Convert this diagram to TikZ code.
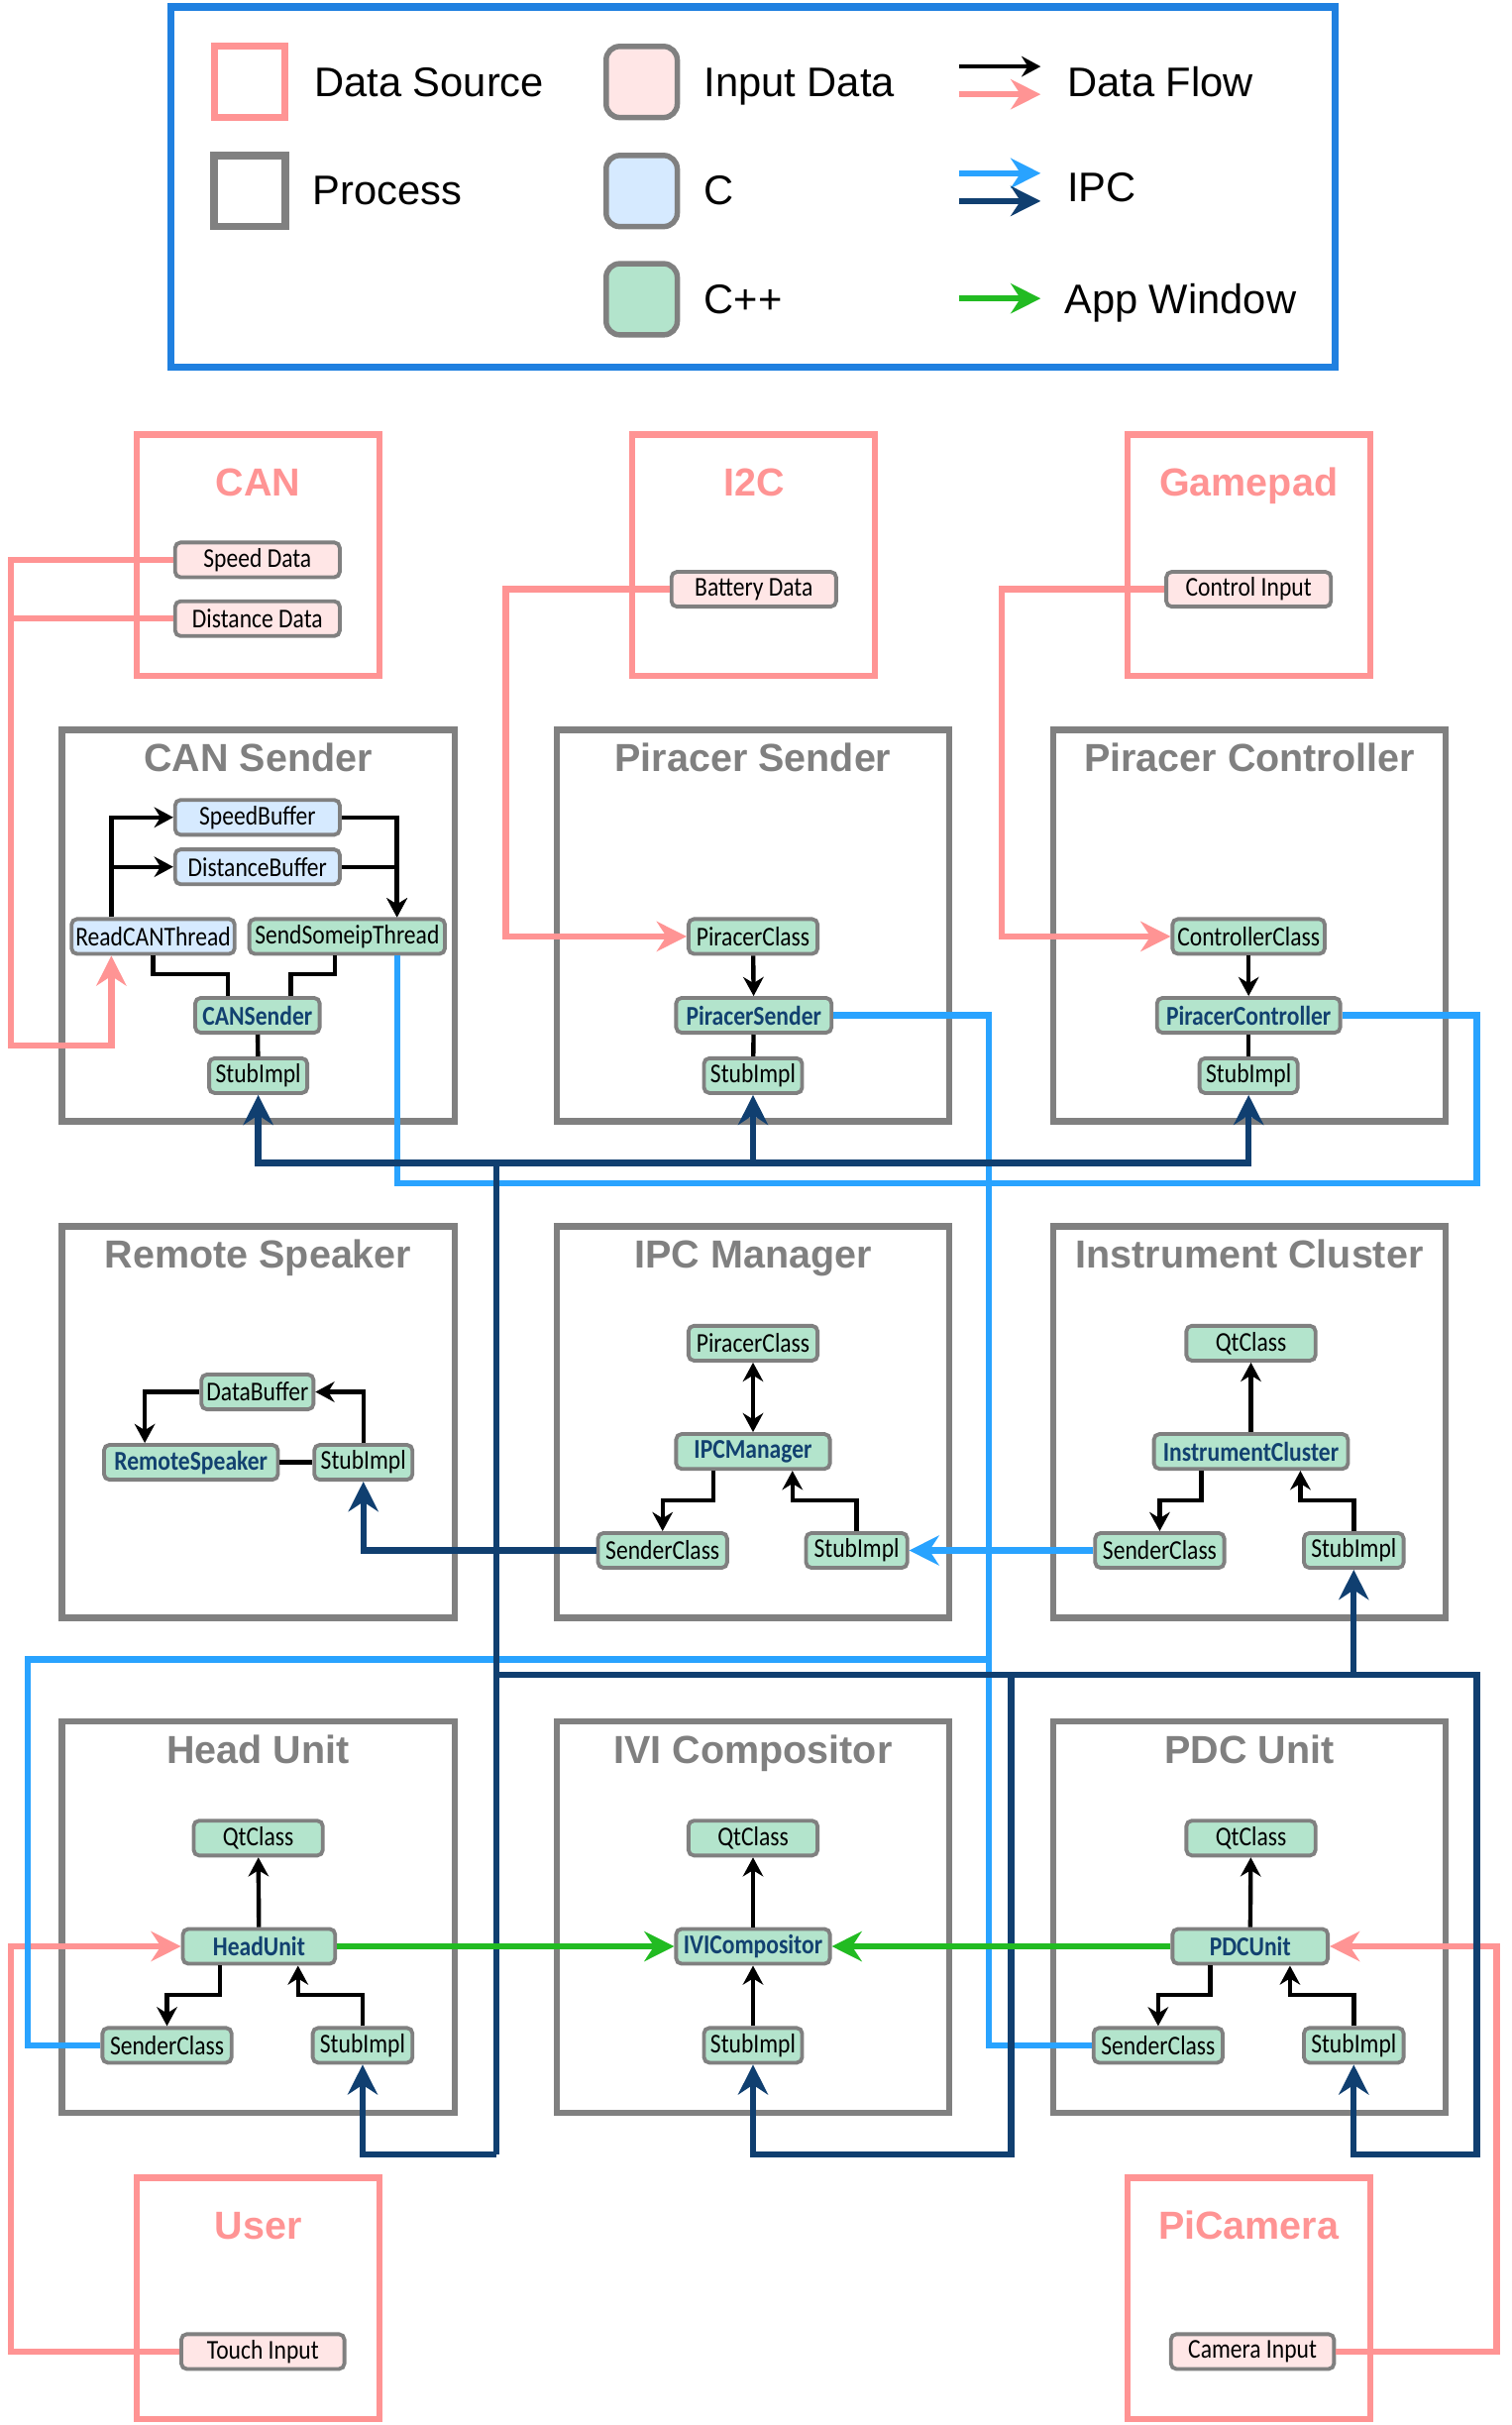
\documentclass[tikz,border=0pt]{standalone}
\usepackage{fontspec}
\setmainfont{Liberation Sans}
\newfontfamily\nodefont[FakeStretch=0.86]{Carlito}
\usetikzlibrary{positioning,calc,arrows.meta}
\definecolor{srcpink}{RGB}{255,148,148}
\definecolor{procgray}{RGB}{128,128,128}
\definecolor{inpfill}{RGB}{255,230,230}
\definecolor{cfill}{RGB}{214,234,255}
\definecolor{cppfill}{RGB}{179,228,204}
\definecolor{coreblue}{RGB}{18,65,112}
\definecolor{ipclight}{RGB}{41,163,255}
\definecolor{ipcdark}{RGB}{16,63,112}
\definecolor{appgreen}{RGB}{34,187,34}
\definecolor{legblue}{RGB}{31,128,224}
\begin{document}
\begin{tikzpicture}[x=0.02cm,y=-0.02cm,
proc/.style={
  draw=procgray,
  line width=2.3pt,
  minimum width=5.08cm,
  minimum height=5.06cm
  },
src/.style={
  draw=srcpink,
  line width=2.3pt,
  minimum width=3.14cm,
  minimum height=3.12cm
  },
ptitle/.style={anchor=base,text=procgray,font=\bfseries\fontsize{14.4}{17}\selectfont},
stitle/.style={ptitle,text=srcpink},
cls/.style={
  draw=procgray,
  line width=1.4pt,
  rounded corners=2pt,
  minimum height=0.45cm,
  inner sep=0pt,
  font=\nodefont\fontsize{10}{12}\selectfont
  },
wd/.style={minimum width=#1cm},
inp/.style={cls,fill=inpfill},
cc/.style={cls,fill=cfill},
cpp/.style={cls,fill=cppfill},
core/.style={cpp,text=coreblue,font=\nodefont\bfseries\fontsize{10}{12}\selectfont},
wire/.style={line width=1.6pt},
flow/.style={wire,-{Stealth[length=7pt,width=7.5pt]}},
dfl/.style={draw=srcpink,line width=2.3pt},
df/.style={dfl,-{Stealth[length=11pt,width=11pt]}},
lipcl/.style={draw=ipclight,line width=2.3pt},
lipc/.style={lipcl,-{Stealth[length=11pt,width=11pt]}},
dipcl/.style={draw=ipcdark,line width=2.3pt},
dipc/.style={dipcl,-{Stealth[length=11pt,width=11pt]}},
app/.style={draw=appgreen,line width=2.3pt,-{Stealth[length=11pt,width=11pt]}},
legtxt/.style={anchor=base west,inner sep=0pt,font=\fontsize{15.2}{18}\selectfont}
]
\useasboundingbox (0,0) rectangle (977.8,1568);

\node[draw=legblue,line width=2.7pt,minimum width=15.06cm,minimum height=4.66cm] (legend) at (487,121) {};
\node[draw=srcpink,line width=2.6pt,minimum size=0.92cm] (lgsrc) at (161.5,53) {};
\node[draw=procgray,line width=2.8pt,minimum size=0.92cm] (lgproc) at (161.5,123.5) {};
\node[inp,minimum size=0.92cm,rounded corners=5pt,line width=2pt] (lginp) at (415,53) {};
\node[cc,minimum size=0.92cm,rounded corners=5pt,line width=2pt] (lgc) at (415,123.5) {};
\node[cpp,minimum size=0.92cm,rounded corners=5pt,line width=2pt] (lgcpp) at (415,193.5) {};
\node[legtxt] (lgsrctxt) at (203,62.6) {Data Source};
\node[legtxt] (lgproctxt) at (202,132.6) {Process};
\node[legtxt] (lginptxt) at (455,62.6) {Input Data};
\node[legtxt] (lgctxt) at (455,132.6) {C};
\node[legtxt] (lgcpptxt) at (455,202.6) {C++};
\node[legtxt] (lgflowtxt) at (690,62.6) {Data Flow};
\node[legtxt] (lgipctxt) at (690,130.6) {IPC};
\node[legtxt] (lgapptxt) at (688,202.6) {App Window};
\draw[flow] (620,43) -- (673,43);
\draw[df] (620,61) -- (673,61);
\draw[lipc] (620,112) -- (673,112);
\draw[dipc] (620,130) -- (673,130);
\draw[app] (620,193) -- (673,193);

\foreach \bx/\by/\bn/\bt in {167/359/canbox/CAN,487.5/359/i2cbox/I2C,807.5/359/padbox/Gamepad,167/1486/userbox/User,807.5/1486/cambox/PiCamera}
{
  \node[src] (\bn) at (\bx,\by) {};
  \node[stitle] (\bn-title) at (\bx,\by-38) {\bt};
}
\foreach \bx/\by/\bn/\bt in {167/598.5/cansend/CAN Sender,487/598.5/pisend/Piracer Sender,808/598.5/picont/Piracer Controller,167/919.5/remote/Remote Speaker,487/919.5/ipc/IPC Manager,808/919.5/cluster/Instrument Cluster,167/1239.5/head/Head Unit,487/1239.5/ivicomp/IVI Compositor,808/1239.5/pdcunit/PDC Unit}
{
  \node[proc] (\bn) at (\bx,\by) {};
  \node[ptitle] (\bn-title) at (\bx,\by-99.5) {\bt};
}

\node[inp,wd=2.13] (speed) at (166.5,362) {Speed Data};
\node[inp,wd=2.13] (dist) at (166.5,400) {Distance Data};
\node[inp,wd=2.13] (battery) at (487.5,381) {Battery Data};
\node[inp,wd=2.13] (control) at (807.5,381) {Control Input};
\node[inp,wd=2.11] (touch) at (170,1520.5) {Touch Input};
\node[inp,wd=2.11] (camera) at (810,1520.5) {Camera Input};

\node[cc,wd=2.13] (speedbuf) at (166.5,528.5) {SpeedBuffer};
\node[cc,wd=2.13] (distbuf) at (166.5,560.5) {DistanceBuffer};
\node[cc,wd=2.11] (readcan) at (99,605.5) {ReadCANThread};
\node[cpp,wd=2.53] (sendsomeip) at (224.5,605.5) {SendSomeipThread};
\node[core,wd=1.61] (cansender) at (166.5,656.5) {CANSender};
\node[cpp,wd=1.27] (stub1) at (167,695.5) {StubImpl};

\node[cpp,wd=1.67] (pclass1) at (487,605.5) {PiracerClass};
\node[core,wd=2.01] (psender) at (487.5,656.5) {PiracerSender};
\node[cpp,wd=1.27] (stub2) at (487,695.5) {StubImpl};

\node[cpp,wd=1.97] (cclass) at (807.5,605.5) {ControllerClass};
\node[core,wd=2.37] (pcontrol) at (807.5,656.5) {PiracerController};
\node[cpp,wd=1.27] (stub3) at (807.5,695.5) {StubImpl};

\node[cpp,wd=1.45] (databuf) at (166.5,900) {DataBuffer};
\node[core,wd=2.25] (remspk) at (123.5,945.5) {RemoteSpeaker};
\node[cpp,wd=1.27] (stub4) at (235,945.5) {StubImpl};

\node[cpp,wd=1.67] (pclass2) at (487,868.5) {PiracerClass};
\node[core,wd=1.99] (ipcman) at (487,938.5) {IPCManager};
\node[cpp,wd=1.67] (sender5) at (428.5,1002.5) {SenderClass};
\node[cpp,wd=1.31] (stub5) at (554,1002.5) {StubImpl};

\node[cpp,wd=1.67] (qt6) at (809,868.5) {QtClass};
\node[core,wd=2.51] (icl) at (809,938.5) {InstrumentCluster};
\node[cpp,wd=1.67] (sender6) at (750,1002.5) {SenderClass};
\node[cpp,wd=1.29] (stub6) at (875.5,1002.5) {StubImpl};

\node[cpp,wd=1.67] (qt7) at (167,1188.5) {QtClass};
\node[core,wd=1.97] (hu) at (167.5,1258.5) {HeadUnit};
\node[cpp,wd=1.67] (sender7) at (108,1322.5) {SenderClass};
\node[cpp,wd=1.29] (stub7) at (234.5,1322.5) {StubImpl};

\node[cpp,wd=1.67] (qt8) at (487,1188.5) {QtClass};
\node[core,wd=1.99] (ivi) at (487,1258.5) {IVICompositor};
\node[cpp,wd=1.27] (stub8) at (487,1322.5) {StubImpl};

\node[cpp,wd=1.67] (qt9) at (809,1188.5) {QtClass};
\node[core,wd=2.01] (pdc) at (808.5,1258.5) {PDCUnit};
\node[cpp,wd=1.67] (sender9) at (749,1322.5) {SenderClass};
\node[cpp,wd=1.29] (stub9) at (875.5,1322.5) {StubImpl};

\coordinate (pinkL) at (7,676);
\coordinate (dbtop) at (321,752);
\coordinate (dbmid) at (321,1083);
\coordinate (dbbot) at (321,1393);
\coordinate (lbjoin) at (639,1073);

\draw[flow] ($(readcan.north west)!.25!(readcan.north east)$) |- (speedbuf.west);
\draw[flow] ($(readcan.north west)!.25!(readcan.north east)$) |- (distbuf.west);
\draw[flow] (speedbuf.east) -| ($(sendsomeip.north west)!.75!(sendsomeip.north east)$);
\draw[flow] (distbuf.east) -| ($(sendsomeip.north west)!.75!(sendsomeip.north east)$);
\draw[wire] (readcan.south) -- ++(0,12) -| ($(cansender.north west)!.27!(cansender.north east)$);
\draw[wire] ($(sendsomeip.south west)!.44!(sendsomeip.south east)$) -- ++(0,12) -| ($(cansender.north west)!.76!(cansender.north east)$);
\draw[wire] (cansender) -- (stub1);
\draw[flow] (pclass1) -- (psender);
\draw[wire] (psender) -- (stub2);
\draw[flow] (cclass) -- (pcontrol);
\draw[wire] (pcontrol) -- (stub3);

\draw[flow] (databuf.west) -| ($(remspk.north west)!.24!(remspk.north east)$);
\draw[flow] (stub4.north) |- (databuf.east);
\draw[wire] (remspk) -- (stub4);

\draw[flow,{Stealth[length=7pt,width=7.5pt]}-{Stealth[length=7pt,width=7.5pt]}] (pclass2) -- (ipcman);
\draw[flow] ($(ipcman.south west)!.25!(ipcman.south east)$) -- ++(0,19) -| (sender5.north);
\draw[flow] (stub5.north) -- ++(0,-20) -| ($(ipcman.south west)!.75!(ipcman.south east)$);

\draw[flow] (icl) -- (qt6);
\draw[flow] ($(icl.south west)!.25!(icl.south east)$) -- ++(0,19) -| (sender6.north);
\draw[flow] (stub6.north) -- ++(0,-20) -| ($(icl.south west)!.75!(icl.south east)$);

\foreach \top/\mid in {qt7/hu,qt8/ivi,qt9/pdc}
  \draw[flow] (\mid) -- (\top);
\draw[flow] ($(hu.south west)!.25!(hu.south east)$) -- ++(0,19) -| (sender7.north);
\draw[flow] (stub7.north) -- ++(0,-20) -| ($(hu.south west)!.75!(hu.south east)$);
\draw[flow] (stub8) -- (ivi);
\draw[flow] ($(pdc.south west)!.25!(pdc.south east)$) -- ++(0,19) -| (sender9.north);
\draw[flow] (stub9.north) -- ++(0,-20) -| ($(pdc.south west)!.75!(pdc.south east)$);

\draw[df] (speed.west) -| (pinkL) -| ($(readcan.south west)!.25!(readcan.south east)$);
\draw[dfl] (dist.west) -- (dist.west -| pinkL);
\draw[df] (battery.west) -- ++(-106,0) |- (pclass1.west);
\draw[df] (control.west) -- ++(-105,0) |- (cclass.west);
\draw[df] (touch.west) -- ++(-109,0) |- (hu.west);
\draw[df] (camera.east) -- ++(104,0) |- (pdc.east);

\draw[lipcl] ($(sendsomeip.south west)!.75!(sendsomeip.south east)$) |- (955,765) |- (pcontrol.east);
\draw[lipcl] (psender.east) -- ++(100.5,0) |- (sender9.west);
\draw[lipcl] (sender7.west) -- ++(-47,0) |- (lbjoin);
\draw[lipc] (sender6.west) -- (stub5.east);

\draw[dipcl] (dbtop) -- (dbbot);
\foreach \stub in {stub1,stub2,stub3}
  \draw[dipc] (dbtop) -| (\stub.south);
\draw[dipc] (sender5.west) -| (stub4.south);
\draw[dipc] (dbbot) -| (stub7.south);
\draw[dipc] (dbmid) -| (stub6.south);
\draw[dipc] (dbmid -| 654,0) -- ++(0,310) -| (stub8.south);
\draw[dipc] (dbmid) -- ++(634,0) -- ++(0,310) -| (stub9.south);

\draw[app] (hu) -- (ivi);
\draw[app] (pdc) -- (ivi);
\end{tikzpicture}
\end{document}
